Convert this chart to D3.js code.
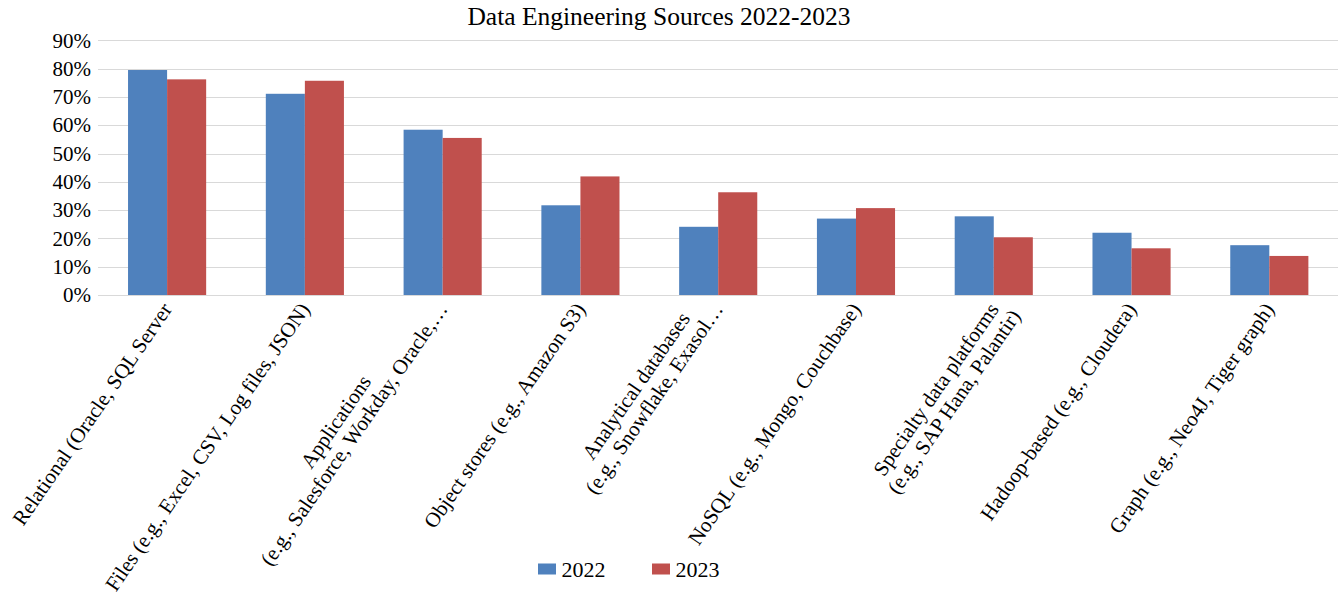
<!DOCTYPE html>
<html>
<head>
<meta charset="utf-8">
<script src="https://cdn.jsdelivr.net/npm/d3@7"></script>
<style>
  html, body { margin: 0; padding: 0; background: #fff; }
  svg { display: block; }
  text { font-family: "Liberation Serif", "Times New Roman", serif; fill: #000; }
</style>
</head>
<body>
<svg id="chart" width="1339" height="594"></svg>
<script>
// ---- data ----
const categories = [
  ["Relational (Oracle, SQL Server"],
  ["Files (e.g., Excel, CSV, Log files, JSON)"],
  ["Applications", "(e.g., Salesforce, Workday, Oracle,\u2026"],
  ["Object stores (e.g., Amazon S3)"],
  ["Analytical databases", "(e.g., Snowflake, Exasol\u2026"],
  ["NoSQL (e.g., Mongo, Couchbase)"],
  ["Specialty data platforms", "(e.g., SAP Hana, Palantir)"],
  ["Hadoop-based (e.g., Cloudera)"],
  ["Graph (e.g., Neo4J, Tiger graph)"]
];
const seriesNames = ["2022", "2023"];
const values2022 = [0.795, 0.711, 0.584, 0.317, 0.241, 0.270, 0.278, 0.220, 0.176];
const values2023 = [0.762, 0.757, 0.555, 0.419, 0.363, 0.307, 0.204, 0.165, 0.138];
const yTicks = [0, 0.1, 0.2, 0.3, 0.4, 0.5, 0.6, 0.7, 0.8, 0.9];
const title = "Data Engineering Sources 2022-2023";
const colors = ["#4F81BD", "#C0504D"];

// ---- layout ----
const plot = { left: 98, right: 1338, top: 40.3, bottom: 295 };
const svg = d3.select("#chart");
const FONT = '"Liberation Serif", "Times New Roman", serif';

const catKeys = categories.map((c, i) => "c" + i);
const x = d3.scaleBand().domain(catKeys).range([plot.left, plot.right]).paddingInner(0).paddingOuter(0);
const bw = x.bandwidth();
const xs = d3.scaleBand().domain(seriesNames).range([bw * 0.218, bw * 0.785]).padding(0);
const y = d3.scaleLinear().domain([0, 0.9]).range([plot.bottom, plot.top]);

// title
svg.append("text")
  .attr("x", 659).attr("y", 25)
  .attr("text-anchor", "middle")
  .style("font-size", "25.5px")
  .text(title);

// gridlines
svg.append("g")
  .selectAll("line").data(yTicks).join("line")
  .attr("x1", plot.left).attr("x2", plot.right)
  .attr("y1", d => Math.round(y(d)) + 0.5).attr("y2", d => Math.round(y(d)) + 0.5)
  .attr("stroke", "#d9d9d9").attr("stroke-width", 1.2);

// y axis labels
const yAxis = d3.axisLeft(y).tickValues(yTicks).tickFormat(d3.format(".0%")).tickSize(0).tickPadding(7);
const gy = svg.append("g").attr("transform", `translate(${plot.left},0)`).call(yAxis)
  .attr("font-family", FONT);
gy.select(".domain").remove();
gy.selectAll("text").style("font-size", "21px").attr("fill", "#000");

// bars
const data = categories.map((c, i) => ({ key: catKeys[i], vals: [values2022[i], values2023[i]] }));
const groups = svg.append("g").selectAll("g").data(data).join("g")
  .attr("transform", d => `translate(${x(d.key)},0)`);
groups.selectAll("rect").data(d => d.vals.map((v, j) => ({ s: seriesNames[j], v, j })))
  .join("rect")
  .attr("x", d => xs(d.s))
  .attr("width", xs.bandwidth())
  .attr("y", d => y(d.v))
  .attr("height", d => y(0) - y(d.v))
  .attr("fill", d => colors[d.j]);

// x axis labels (rotated, multi-line centered)
const angle = 55.5, rad = angle * Math.PI / 180;
const cs = Math.cos(rad), sn = Math.sin(rad);
const fs = 21, lh = 22;
const tipX = -6, tipY = 6;   // where the topmost end of a label sits, relative to its tick
const xAxis = d3.axisBottom(x).tickSize(0).tickFormat("");
const gx = svg.append("g").attr("transform", `translate(0,${plot.bottom})`).call(xAxis)
  .attr("font-family", FONT);
gx.select(".domain").remove();
gx.selectAll(".tick").each(function(key, i) {
  const lines = categories[i];
  const n = lines.length;
  const g = d3.select(this);
  g.select("text").remove();
  const t = g.append("text")
    .style("font-size", fs + "px")
    .attr("text-anchor", "middle");
  const spans = lines.map(ln => t.append("tspan").text(ln));
  const widths = spans.map(s => s.node().getComputedTextLength());
  const maxW = d3.max(widths);
  let best = null;
  spans.forEach((s, k) => {
    const by = (k - (n - 1) / 2) * lh + fs * 0.35;
    s.attr("x", -maxW / 2).attr("y", by);
    const ex = -maxW / 2 + widths[k] / 2, ey = by - fs * 0.69;
    const sx = ex * cs + ey * sn, sy = -ex * sn + ey * cs;
    if (!best || sy < best.sy) best = { sx, sy };
  });
  t.attr("transform", `translate(${tipX - best.sx},${tipY - best.sy}) rotate(${-angle})`);
});

// legend
const legend = svg.append("g");
const legX = [538, 652];
seriesNames.forEach((s, j) => {
  legend.append("rect").attr("x", legX[j]).attr("y", 563.5).attr("width", 18).attr("height", 11).attr("fill", colors[j]);
  legend.append("text").attr("x", legX[j] + 23.5).attr("y", 576.5).style("font-size", "22px").text(s);
});
</script>
</body>
</html>
